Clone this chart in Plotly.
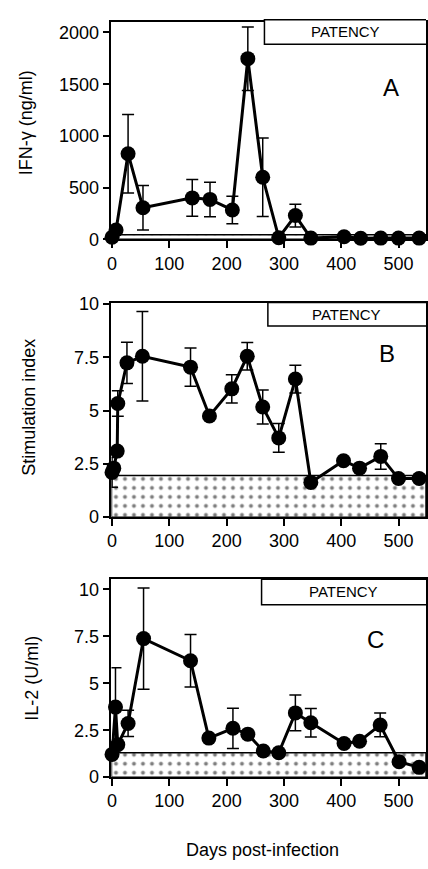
import plotly.graph_objects as go

# ---------------- data ----------------
days_a = [0, 7, 28, 54, 140, 171, 210, 237, 263, 291, 320, 347, 405, 434, 469, 500, 536]
ifn = [20, 90, 828, 306, 401, 386, 284, 1747, 600, 16, 230, 12, 25, 10, 12, 12, 12]
ifn_err = [0, 0, 380, 215, 177, 167, 133, 307, 379, 0, 110, 0, 0, 0, 0, 0, 0]

days_b = [0, 3, 9, 10, 26, 53, 137, 170, 209, 236, 263, 291, 320, 347, 404, 432, 469, 500, 536]
stim = [2.1, 2.3, 3.1, 5.33, 7.24, 7.55, 7.04, 4.75, 6.02, 7.55, 5.17, 3.72, 6.48, 1.63, 2.65, 2.3, 2.85, 1.81, 1.81]
stim_err = [0.7, 0, 0, 0.6, 0.97, 2.1, 0.9, 0, 0.66, 0.65, 0.8, 0.68, 0.65, 0, 0, 0, 0.6, 0, 0]

days_c = [0, 6, 10, 28, 55, 137, 169, 211, 237, 264, 291, 320, 347, 405, 432, 468, 501, 536]
il2 = [1.21, 3.73, 1.73, 2.86, 7.38, 6.2, 2.08, 2.6, 2.29, 1.39, 1.3, 3.42, 2.9, 1.79, 1.91, 2.78, 0.82, 0.52]
il2_err = [0, 2.1, 0, 0.7, 2.7, 1.4, 0, 1.07, 0, 0, 0, 0.95, 0.76, 0, 0, 0.63, 0, 0]

band_top = [45, 1.95, 1.3]
patency_start = [266, 272, 261]
y_titles = ["IFN-\u03b3 (ng/ml)", "Stimulation index", "IL-2 (U/ml)"]
panel_labels = ["A", "B", "C"]
y_ticks = [[0, 500, 1000, 1500, 2000], [0, 2.5, 5, 7.5, 10], [0, 2.5, 5, 7.5, 10]]
y_ranges = [[0, 2104], [0, 10.03], [0, 10.54]]
x_ticks = [0, 100, 200, 300, 400, 500]
x_range = [-1, 548]

FONT = "Liberation Sans, Arial, Helvetica, sans-serif"
W, H = 428, 869

# pixel geometry (top, bottom) of each panel
panel_px = [(13, 235.5), (301, 519.5), (583, 785.3)]
label_px = [(393, 80), (388, 352), (377, 645)]
patency_px = [(11, 36), (300, 324), (583, 609)]
ytitle_px = [(23, 116), (25, 407), (28, 684)]
left_px = 109

fig = go.Figure()

series = [(days_a, ifn, ifn_err), (days_b, stim, stim_err), (days_c, il2, il2_err)]

for i in range(3):
    ax = "" if i == 0 else str(i + 1)
    xr = "x" + ax
    yr = "y" + ax
    # dotted background band
    fig.add_trace(go.Scatter(
        x=[x_range[0], x_range[1], x_range[1], x_range[0], x_range[0]],
        y=[0, 0, band_top[i], band_top[i], 0],
        mode="lines", fill="toself",
        fillcolor="white",
        fillpattern=dict(shape=".", size=9, solidity=0.15, fgcolor="black", bgcolor="white"),
        line=dict(color="black", width=1.5),
        xaxis=xr, yaxis=yr, showlegend=False, hoverinfo="skip"))
    d, v, e = series[i]
    fig.add_trace(go.Scatter(
        x=d, y=v, mode="lines+markers",
        line=dict(color="black", width=3),
        marker=dict(color="black", size=15),
        error_y=dict(type="data", array=e, visible=True, color="black", thickness=1.5, width=6),
        cliponaxis=False,
        xaxis=xr, yaxis=yr, showlegend=False))

    top, bot = panel_px[i]
    dom = [1 - bot / H, 1 - top / H]
    fig.layout["xaxis" + ax] = dict(
        domain=[left_px / W, 1], range=x_range, anchor=yr,
        tickvals=x_ticks, ticks="outside", ticklen=7, tickwidth=1.5, tickcolor="black",
        showline=True, linecolor="black", linewidth=1.5, mirror=True,
        showgrid=False, zeroline=False,
        tickfont=dict(family=FONT, size=18, color="black"))
    fig.layout["yaxis" + ax] = dict(
        domain=dom, range=y_ranges[i], anchor=xr,
        tickvals=y_ticks[i], ticks="outside", ticklen=7, tickwidth=1.5, tickcolor="black",
        showline=True, linecolor="black", linewidth=1.5, mirror=True,
        showgrid=False, zeroline=False,
        tickfont=dict(family=FONT, size=18, color="black"))

    # y title
    tx, ty = ytitle_px[i]
    fig.add_annotation(xref="paper", yref="paper", x=tx / W, y=1 - ty / H,
                       xanchor="center", yanchor="middle", textangle=-90,
                       text=y_titles[i], showarrow=False,
                       font=dict(family=FONT, size=18, color="black"))

    # PATENCY box
    pt, pb = patency_px[i]
    fig.add_shape(type="rect", xref=xr, yref="paper",
                  x0=patency_start[i], x1=x_range[1] + 60, y0=1 - pb / H, y1=1 - pt / H,
                  line=dict(color="black", width=1.5), fillcolor="white", layer="above")
    fig.add_annotation(xref=xr, yref="paper",
                       x=(patency_start[i] + x_range[1]) / 2, y=1 - (pt + pb) / 2 / H,
                       xanchor="center", yanchor="middle",
                       text="PATENCY", showarrow=False,
                       font=dict(family=FONT, size=15, color="black"))
    lx, ly = label_px[i]
    fig.add_annotation(xref="paper", yref="paper", x=lx / W, y=1 - ly / H,
                       xanchor="center", yanchor="middle",
                       text=panel_labels[i], showarrow=False,
                       font=dict(family=FONT, size=24, color="black"))

fig.add_annotation(xref="paper", yref="paper", x=262 / W, y=1 - 860 / H,
                   xanchor="center", yanchor="middle",
                   text="Days post-infection", showarrow=False,
                   font=dict(family=FONT, size=18, color="black"))

fig.update_layout(width=W, height=H, margin=dict(l=0, r=0, t=0, b=0),
                  paper_bgcolor="white", plot_bgcolor="white", showlegend=False)

fig.write_html("out.html", post_script="document.body.style.margin='0';",
               config={"displayModeBar": False})
